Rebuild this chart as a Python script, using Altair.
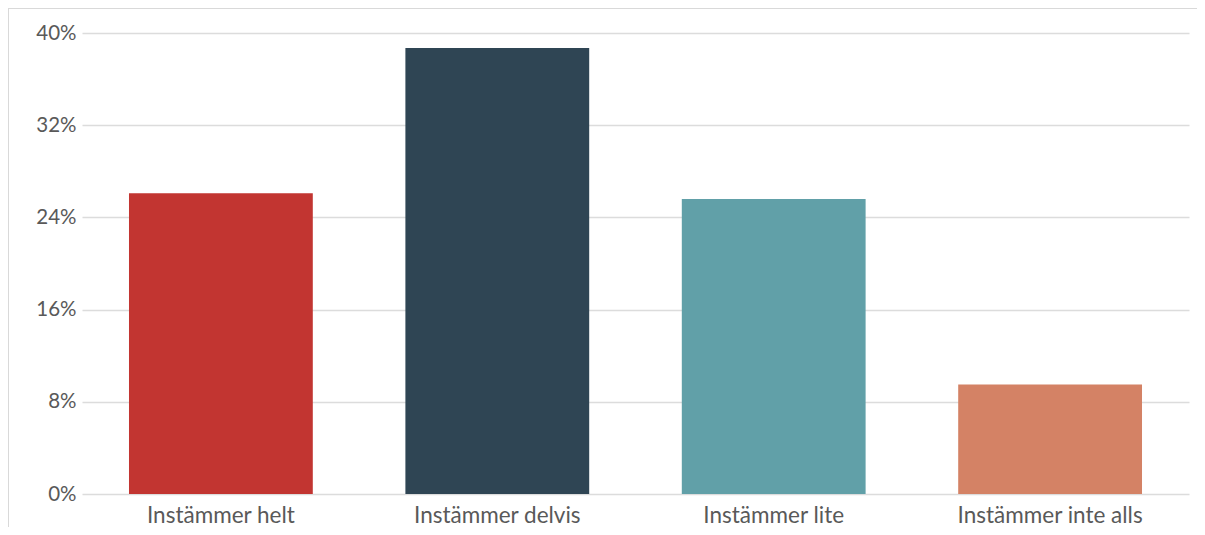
import altair as alt
import pandas as pd

categories = ["Instämmer helt", "Instämmer delvis", "Instämmer lite", "Instämmer inte alls"]
values = [0.261, 0.387, 0.256, 0.095]
colors = ["#c23531", "#2f4554", "#61a0a8", "#d48265"]
y_ticks = [0, 0.08, 0.16, 0.24, 0.32, 0.40]

df = pd.DataFrame({"cat": categories, "val": values, "color": colors})

FONT = "Lato"
LABEL = "#595959"

bars = alt.Chart(df).mark_bar().encode(
    x=alt.X("cat:N", sort=categories, title=None,
            scale=alt.Scale(paddingInner=0.335, paddingOuter=0.17),
            axis=alt.Axis(labelAngle=0, labelFontSize=22.5, labelColor=LABEL, labelFont=FONT,
                          ticks=False, domain=False, labelPadding=10, grid=False,
                          labelLimit=400, labelOverlap=False)),
    y=alt.Y("val:Q", title=None,
            scale=alt.Scale(domain=[0, 0.40], nice=False),
            axis=alt.Axis(values=y_ticks, format=".0%", labelFontSize=20.5, labelColor=LABEL,
                          labelFont=FONT, ticks=False, domain=False, labelPadding=6,
                          grid=True, gridColor="#dcdcdc", gridWidth=1.5)),
    color=alt.Color("color:N", scale=None),
)

frame_top = alt.Chart(df).mark_rule(color="#d9d9d9", strokeWidth=1.5).encode(
    x=alt.value(-74), x2=alt.value(1200), y=alt.value(-25))
frame_left = alt.Chart(df).mark_rule(color="#d9d9d9", strokeWidth=1.5).encode(
    x=alt.value(-74), y=alt.value(-25), y2=alt.value(600))

chart = alt.layer(bars, frame_top, frame_left).properties(
    width=1107, height=461,
    autosize=alt.AutoSizeParams(type="none"),
    padding={"left": 74, "top": 25, "right": 8, "bottom": 33},
    background="white",
).configure_view(stroke=None)

chart.save("out.html", embed_options={"renderer": "svg", "actions": False})
